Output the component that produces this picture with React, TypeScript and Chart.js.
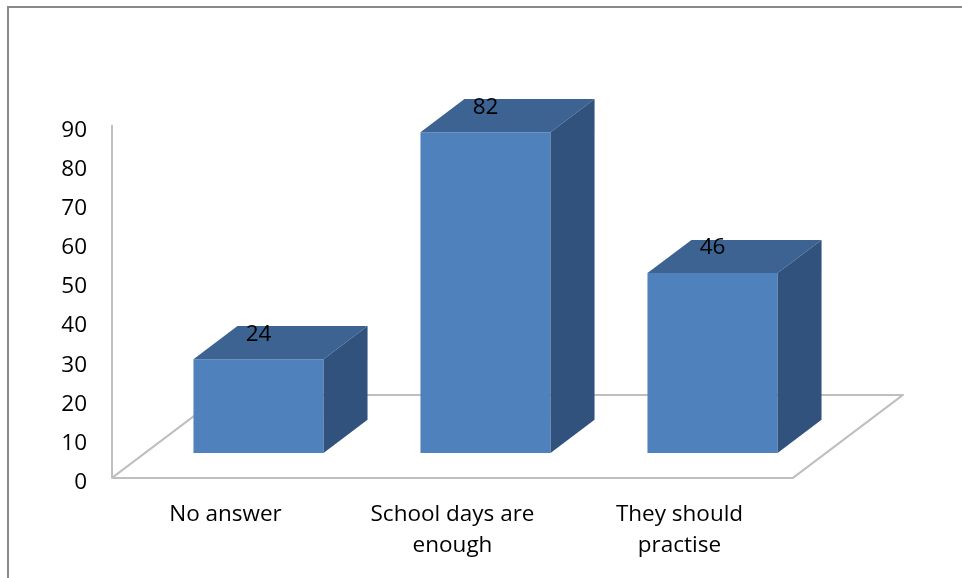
import React, { useEffect, useRef } from "react";
import { Chart, registerables } from "chart.js";

Chart.register(...registerables);

// Survey answers and counts
const categories: (string | string[])[] = [
  "No answer",
  ["School days are", "enough"],
  ["They should", "practise"],
];
const responses: number[] = [24, 82, 46];

// Value axis
const Y_MIN = 0;
const Y_MAX = 90;
const Y_STEP = 10;

const FONT_FAMILY = "'Open Sans', 'Liberation Sans', sans-serif";
const FONT_SIZE = 22.5;

const FRONT_COLOR = "#4F81BD";
const TOP_COLOR = "#3C6391";
const SIDE_COLOR = "#31527D";
const FLOOR_COLOR = "#bfbfbf";
const FRAME_COLOR = "#8a8a8a";

// Depth of the floor (pixels) and where the columns sit inside it
const FLOOR_DX = 110;
const FLOOR_DY = 83;
const BAR_FRONT = 0.3;
const BAR_BACK = 0.7;

const boxPlugin = {
  id: "box3d",
  beforeDraw(chart: any) {
    const { ctx, width, height } = chart;
    ctx.save();
    ctx.strokeStyle = FRAME_COLOR;
    ctx.lineWidth = 2;
    ctx.beginPath();
    ctx.moveTo(8, height + 2);
    ctx.lineTo(8, 7);
    ctx.lineTo(width + 2, 7);
    ctx.stroke();
    ctx.restore();
  },
  beforeDatasetsDraw(chart: any) {
    const { ctx, chartArea: a, scales } = chart;
    const offX = FLOOR_DX * BAR_FRONT;
    const offY = FLOOR_DY * BAR_FRONT;
    const fl = a.left - offX;
    const fr = a.right - offX;
    const fy = a.bottom + offY;
    ctx.save();
    ctx.strokeStyle = FLOOR_COLOR;
    ctx.lineWidth = 2;
    ctx.lineJoin = "round";
    // floor
    ctx.beginPath();
    ctx.moveTo(fl, fy);
    ctx.lineTo(fr, fy);
    ctx.lineTo(fr + FLOOR_DX, fy - FLOOR_DY);
    ctx.lineTo(fl + FLOOR_DX, fy - FLOOR_DY);
    ctx.closePath();
    ctx.stroke();
    // value axis line at the front left corner
    const yTop = scales.y.getPixelForValue(Y_MAX) + offY - 1;
    ctx.beginPath();
    ctx.moveTo(fl, fy);
    ctx.lineTo(fl, yTop);
    ctx.stroke();
    ctx.restore();
  },
  afterDatasetsDraw(chart: any) {
    const { ctx } = chart;
    const meta = chart.getDatasetMeta(0);
    const dx = FLOOR_DX * (BAR_BACK - BAR_FRONT);
    const dy = FLOOR_DY * (BAR_BACK - BAR_FRONT);
    ctx.save();
    meta.data.forEach((bar: any, i: number) => {
      const { x, y, base, width } = bar.getProps(["x", "y", "base", "width"], true);
      const l = x - width / 2;
      const r = x + width / 2;
      // top face
      ctx.fillStyle = TOP_COLOR;
      ctx.beginPath();
      ctx.moveTo(l, y);
      ctx.lineTo(l + dx, y - dy);
      ctx.lineTo(r + dx, y - dy);
      ctx.lineTo(r, y);
      ctx.closePath();
      ctx.fill();
      // side face
      ctx.fillStyle = SIDE_COLOR;
      ctx.beginPath();
      ctx.moveTo(r, y);
      ctx.lineTo(r + dx, y - dy);
      ctx.lineTo(r + dx, base - dy);
      ctx.lineTo(r, base);
      ctx.closePath();
      ctx.fill();
      // value label
      ctx.fillStyle = "#000";
      ctx.font = `${FONT_SIZE}px ${FONT_FAMILY}`;
      ctx.textAlign = "center";
      ctx.textBaseline = "middle";
      ctx.fillText(String(responses[i]), x, y - 25);
    });
    ctx.restore();
  },
};

export default function App() {
  const canvasRef = useRef<HTMLCanvasElement | null>(null);

  useEffect(() => {
    const canvas = canvasRef.current;
    if (!canvas) return;
    const chart = new Chart(canvas, {
      type: "bar",
      data: {
        labels: categories,
        datasets: [
          {
            data: responses,
            backgroundColor: FRONT_COLOR,
            borderWidth: 0,
            categoryPercentage: 1,
            barPercentage: 0.573,
          },
        ],
      },
      options: {
        animation: false,
        responsive: false,
        layout: { padding: { top: 101, right: 136, left: 0, bottom: 0 } },
        plugins: {
          legend: { display: false },
          tooltip: { enabled: false },
        },
        scales: {
          x: {
            grid: { display: false, drawTicks: false },
            border: { display: false },
            ticks: {
              color: "#000",
              font: { family: FONT_FAMILY, size: FONT_SIZE, lineHeight: 1.38 },
              padding: 46,
              labelOffset: -FLOOR_DX * BAR_FRONT,
              maxRotation: 0,
              autoSkip: false,
            },
            afterFit(scale: any) {
              scale.height = 125;
            },
          },
          y: {
            min: Y_MIN,
            max: Y_MAX,
            grid: { display: false, drawTicks: false },
            border: { display: false },
            ticks: {
              stepSize: Y_STEP,
              color: "#000",
              font: { family: FONT_FAMILY, size: FONT_SIZE },
              padding: 58,
              labelOffset: 29.5,
            },
            afterFit(scale: any) {
              scale.width = 145;
            },
          },
        },
      },
      plugins: [boxPlugin],
    });
    return () => chart.destroy();
  }, []);

  return (
    <div style={{ position: "fixed", left: 0, top: 0, width: 962, height: 578, background: "#fff" }}>
      <canvas ref={canvasRef} width={962} height={578} style={{ display: "block" }} />
    </div>
  );
}
